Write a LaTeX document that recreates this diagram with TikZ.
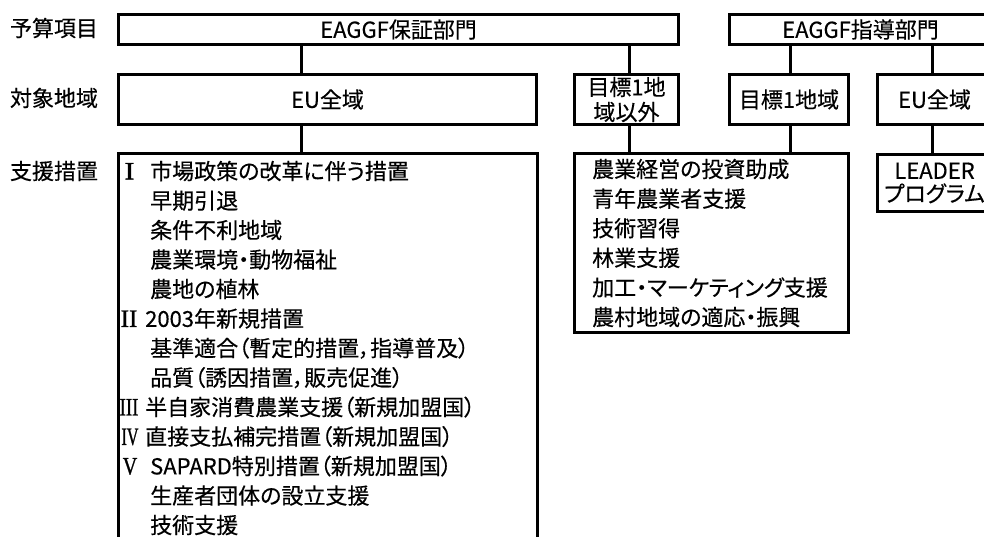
\documentclass[tikz,border=0pt]{standalone}
\usepackage{fontspec}
\setmainfont{Noto Sans CJK JP}[RawFeature=+palt, FakeBold=0.4]
\newfontfamily\romf{Liberation Serif}[FakeBold=1.2]
\newcommand\jpf{\fontsize{22}{25}\selectfont}
\begin{document}
\begin{tikzpicture}[x=1pt,y=-1pt,
  box/.style={draw=black, line width=3pt, inner sep=0pt, anchor=north west, font=\jpf, align=center},
  lab/.style={inner sep=0pt, font=\jpf},
  item/.style={inner sep=0pt, anchor=base west, font=\jpf},
  numeral/.style={inner sep=0pt, anchor=base, font=\fontsize{25}{25}\selectfont\romf},
  conn/.style={draw=black, line width=3pt}]
\useasboundingbox (0,0) rectangle (984,537);
% boxes
\node[box, minimum width=560pt, minimum height=30pt] (gbud) at (117,13) {EAGGF保証部門};
\node[box, minimum width=262pt, minimum height=30pt] (gdir) at (728,13) {EAGGF指導部門};
\node[box, minimum width=418pt, minimum height=50pt] (euA) at (117,73) {EU全域};
\node[box, minimum width=104pt, minimum height=50pt] (obj1x) at (573,73) {目標1地\\域以外};
\node[box, minimum width=119pt, minimum height=50pt] (obj1) at (728,73) {目標1地域};
\node[box, minimum width=114pt, minimum height=50pt] (euB) at (876,73) {EU全域};
\node[box, minimum width=419pt, minimum height=420pt] (meas) at (117,152) {};
\node[box, minimum width=274pt, minimum height=179pt] (rdev) at (573,152) {};
\node[box, minimum width=114pt, minimum height=57pt, font=\fontsize{22}{23}\selectfont] (leader) at (876,153) {LEADER\\プログラム};
% connectors
\coordinate (xa) at (301,0);
\coordinate (xb) at (629,0);
\coordinate (xc) at (790,0);
\coordinate (xd) at (932,0);
\draw[conn] (xa |- gbud.south) -- (xa |- euA.north);
\draw[conn] (xb |- gbud.south) -- (xb |- obj1x.north);
\draw[conn] (xa |- euA.south) -- (xa |- meas.north);
\draw[conn] (xb |- obj1x.south) -- (xb |- rdev.north);
\draw[conn] (xc |- gdir.south) -- (xc |- obj1.north);
\draw[conn] (xd |- gdir.south) -- (xd |- euB.north);
\draw[conn] (xc |- obj1.south) -- (xc |- rdev.north);
\draw[conn] (xd |- euB.south) -- (xd |- leader.north);
% row labels
\node[lab] (l1) at (54,28) {予算項目};
\node[lab] (l2) at (54,98) {対象地域};
\node[lab] (l3) at (54,171) {支援措置};
% measures list
\node[numeral] (n1) at (129.5,179.4) {\scalebox{1.2}[1]{I}};
\node[item] (m1) at (150,179.4) {市場政策の改革に伴う措置};
\node[item] (m2) at (150,208.9) {早期引退};
\node[item] (m3) at (150,238.4) {条件不利地域};
\node[item] (m4) at (150,267.9) {農業環境・動物福祉};
\node[item] (m5) at (150,297.4) {農地の植林};
\node[numeral] (n2) at (129,326.9) {\scalebox{1.0}[1]{II}};
\node[item] (m6) at (145,326.9) {2003年新規措置};
\node[item] (m7) at (150,356.4) {基準適合（暫定的措置，指導普及）};
\node[item] (m8) at (150,385.9) {品質（誘因措置，販売促進）};
\node[numeral] (n3) at (129,415.4) {\scalebox{0.75}[1]{III}};
\node[item] (m9) at (145,415.4) {半自家消費農業支援（新規加盟国）};
\node[numeral] (n4) at (130,444.9) {\scalebox{0.65}[1]{IV}};
\node[item] (m10) at (145,444.9) {直接支払補完措置（新規加盟国）};
\node[numeral] (n5) at (130,474.4) {\scalebox{0.8}[1]{V}};
\node[item] (m11) at (150,474.4) {SAPARD特別措置（新規加盟国）};
\node[item] (m12) at (150,503.9) {生産者団体の設立支援};
\node[item] (m13) at (150,533.4) {技術支援};
% rural development list
\node[item] (r1) at (592,177.4) {農業経営の投資助成};
\node[item] (r2) at (592,207.0) {青年農業者支援};
\node[item] (r3) at (592,236.6) {技術習得};
\node[item] (r4) at (592,266.2) {林業支援};
\node[item] (r5) at (592,295.8) {加工・マーケティング支援};
\node[item] (r6) at (592,325.4) {農村地域の適応・振興};
\end{tikzpicture}
\end{document}
